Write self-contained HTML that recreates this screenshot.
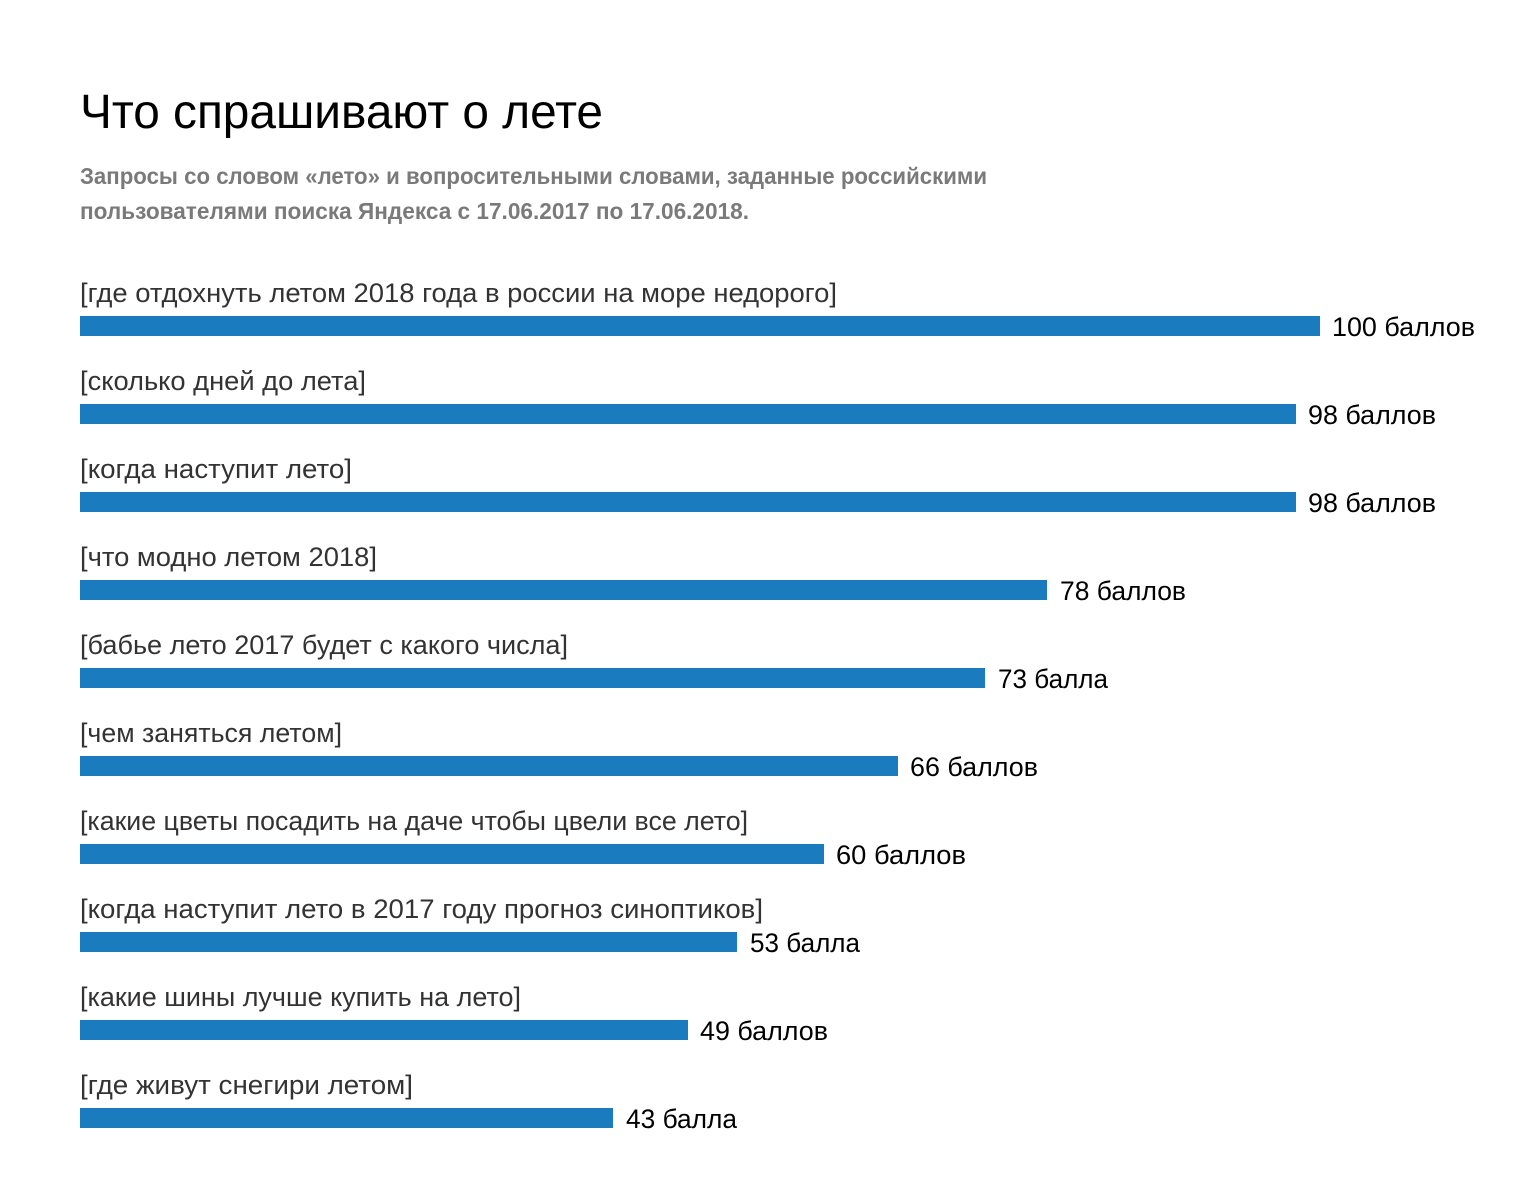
<!DOCTYPE html>
<html><head><meta charset="utf-8"><style>
html,body{margin:0;padding:0;background:#fff;}
svg{display:block;}
text{font-family:"Liberation Sans",sans-serif;}
</style></head><body>
<svg width="1540" height="1188" viewBox="0 0 1540 1188" xmlns="http://www.w3.org/2000/svg">
<rect width="1540" height="1188" fill="#fff"/>
<text x="80" y="128" font-size="48" fill="#000" textLength="523" lengthAdjust="spacingAndGlyphs">Что спрашивают о лете</text>
<text x="80" y="184" font-size="23" fill="#7a7a7a" font-weight="bold" textLength="907" lengthAdjust="spacingAndGlyphs">Запросы со словом «лето» и вопросительными словами, заданные российскими</text>
<text x="80" y="219" font-size="23" fill="#7a7a7a" font-weight="bold" textLength="669" lengthAdjust="spacingAndGlyphs">пользователями поиска Яндекса с 17.06.2017 по 17.06.2018.</text>
<g font-size="27" fill="#333">
<text x="80" y="302" textLength="757" lengthAdjust="spacingAndGlyphs">[где отдохнуть летом 2018 года в россии на море недорого]</text>
<text x="80" y="390" textLength="286" lengthAdjust="spacingAndGlyphs">[сколько дней до лета]</text>
<text x="80" y="478" textLength="272" lengthAdjust="spacingAndGlyphs">[когда наступит лето]</text>
<text x="80" y="566" textLength="297" lengthAdjust="spacingAndGlyphs">[что модно летом 2018]</text>
<text x="80" y="654" textLength="488" lengthAdjust="spacingAndGlyphs">[бабье лето 2017 будет с какого числа]</text>
<text x="80" y="742" textLength="262" lengthAdjust="spacingAndGlyphs">[чем заняться летом]</text>
<text x="80" y="830" textLength="668" lengthAdjust="spacingAndGlyphs">[какие цветы посадить на даче чтобы цвели все лето]</text>
<text x="80" y="918" textLength="683" lengthAdjust="spacingAndGlyphs">[когда наступит лето в 2017 году прогноз синоптиков]</text>
<text x="80" y="1006" textLength="441" lengthAdjust="spacingAndGlyphs">[какие шины лучше купить на лето]</text>
<text x="80" y="1094" textLength="333" lengthAdjust="spacingAndGlyphs">[где живут снегири летом]</text>
</g>
<g fill="#1b7bbf">
<rect x="80" y="316" width="1240" height="20"/>
<rect x="80" y="404" width="1216" height="20"/>
<rect x="80" y="492" width="1216" height="20"/>
<rect x="80" y="580" width="967" height="20"/>
<rect x="80" y="668" width="905" height="20"/>
<rect x="80" y="756" width="818" height="20"/>
<rect x="80" y="844" width="744" height="20"/>
<rect x="80" y="932" width="657" height="20"/>
<rect x="80" y="1020" width="608" height="20"/>
<rect x="80" y="1108" width="533" height="20"/>
</g>
<g font-size="27" fill="#000">
<text x="1332" y="336" textLength="143" lengthAdjust="spacingAndGlyphs">100 баллов</text>
<text x="1308" y="424" textLength="128" lengthAdjust="spacingAndGlyphs">98 баллов</text>
<text x="1308" y="512" textLength="128" lengthAdjust="spacingAndGlyphs">98 баллов</text>
<text x="1060" y="600" textLength="126" lengthAdjust="spacingAndGlyphs">78 баллов</text>
<text x="998" y="688" textLength="110" lengthAdjust="spacingAndGlyphs">73 балла</text>
<text x="910" y="776" textLength="128" lengthAdjust="spacingAndGlyphs">66 баллов</text>
<text x="836" y="864" textLength="130" lengthAdjust="spacingAndGlyphs">60 баллов</text>
<text x="750" y="952" textLength="110" lengthAdjust="spacingAndGlyphs">53 балла</text>
<text x="700" y="1040" textLength="128" lengthAdjust="spacingAndGlyphs">49 баллов</text>
<text x="626" y="1128" textLength="111" lengthAdjust="spacingAndGlyphs">43 балла</text>
</g>
</svg>
</body></html>
